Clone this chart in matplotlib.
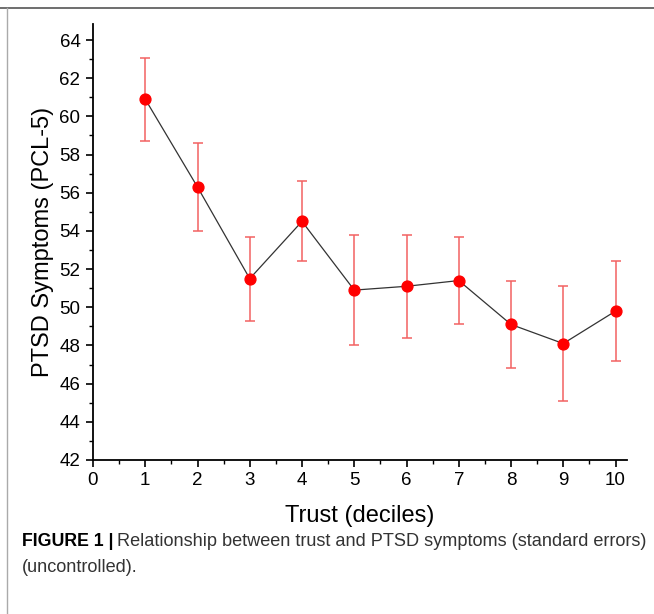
import numpy as np
import matplotlib
matplotlib.use('Agg')
import matplotlib.pyplot as plt
from matplotlib.ticker import MultipleLocator

plt.rcParams['font.family'] = ['Liberation Sans', 'DejaVu Sans']

deciles = [1, 2, 3, 4, 5, 6, 7, 8, 9, 10]
pcl_mean = [60.9, 56.3, 51.5, 54.5, 50.9, 51.1, 51.4, 49.1, 48.1, 49.8]
err_upper = [63.05, 58.6, 53.7, 56.6, 53.8, 53.8, 53.7, 51.4, 51.1, 52.4]
err_lower = [58.7, 54.0, 49.3, 52.4, 48.0, 48.4, 49.1, 46.8, 45.1, 47.2]

x_ticks = list(range(0, 11))
y_ticks = list(range(42, 65, 2))

mean = np.array(pcl_mean)
yerr = [mean - np.array(err_lower), np.array(err_upper) - mean]

fig = plt.figure(figsize=(6.54, 6.14), dpi=100)

# frame lines of the figure panel (top and left)
fig.add_artist(plt.Line2D([0, 1], [1 - 8/614, 1 - 8/614], color='#555555', lw=1.2))
fig.add_artist(plt.Line2D([7/654, 7/654], [0, 1 - 8/614], color='#aaaaaa', lw=1.0))

ax = fig.add_axes([93/654, 1 - 460/614, 534/654, 436/614])
ax.errorbar(deciles, mean, yerr=yerr, fmt='none', ecolor='#f26262', elinewidth=1.1,
            capsize=3.4, capthick=1.1, zorder=2)
ax.plot(deciles, mean, color='#333333', lw=0.9, zorder=3)
ax.plot(deciles, mean, 'o', color='#ff0000', markersize=7.8, zorder=4)

ax.set_xlim(0, 10.22)
ax.set_ylim(42, 64.84)
ax.set_xticks(x_ticks)
ax.set_yticks(y_ticks)
ax.xaxis.set_minor_locator(MultipleLocator(0.5))
ax.yaxis.set_minor_locator(MultipleLocator(1))
ax.tick_params(which='major', direction='out', length=5, width=1.2, labelsize=13.5)
ax.tick_params(axis='y', which='major', pad=4)
ax.tick_params(which='minor', direction='out', length=3, width=1.0)
for s in ['top', 'right']:
    ax.spines[s].set_visible(False)
for s in ['left', 'bottom']:
    ax.spines[s].set_linewidth(1.3)

ax.set_ylabel('PTSD Symptoms (PCL-5)', fontsize=17, labelpad=4)
ax.set_xlabel('Trust (deciles)', fontsize=17, labelpad=12)

fig.text(22/654, 1 - 541/614, 'FIGURE 1 |', fontsize=12.8, fontweight='bold', va='center')
fig.text(117/654, 1 - 541/614, 'Relationship between trust and PTSD symptoms (standard errors)',
         fontsize=13.1, va='center', color='#333333')
fig.text(22/654, 1 - 567/614, '(uncontrolled).', fontsize=13.1, va='center', color='#333333')

fig.savefig('out.png', dpi=100)
